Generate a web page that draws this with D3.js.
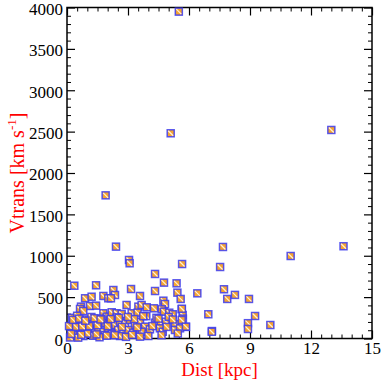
<!DOCTYPE html>
<html>
<head>
<meta charset="utf-8">
<script src="https://cdn.jsdelivr.net/npm/d3@7"></script>
<style>
  body { margin: 0; background: #fff; }
  svg text { font-family: "Liberation Serif", "Times New Roman", serif; }
</style>
</head>
<body>
<div id="chart"></div>
<script>
// distance [kpc] and transverse velocity [km/s]
const dist = [
  5.5, 5.1, 13.0, 1.9, 13.6, 2.41, 3.05, 3.08, 7.67, 7.53, 11.0, 5.66,
  0.36, 1.43, 4.33, 4.77, 5.39, 3.15, 4.33, 5.43, 2.28, 2.36, 7.72, 6.41,
  7.88, 8.26, 8.95, 0.89, 1.21, 1.79, 2.03, 2.16, 3.59, 4.74, 4.82, 5.59,
  2.93, 3.51, 1.13, 1.43, 0.69, 3.67, 3.92, 4.28, 4.66, 5.64, 0.64, 0.8,
  1.79, 1.95, 2.2, 2.44, 2.69, 3.18, 3.47, 4.77, 5.03, 5.2, 5.69, 6.95,
  9.25, 5.65, 5.7, 10.0, 8.9, 8.9, 7.13, 5.85, 7.12,
  0.39, 0.72, 1.05, 1.29, 1.62, 1.87, 2.11, 2.36, 2.61, 2.85, 3.1, 3.34,
  3.59, 3.84, 4.33, 4.61, 4.87, 5.31, 5.64,
  0.23, 0.48, 0.64, 0.89, 1.13, 1.38, 1.54, 1.79, 2.03, 2.28, 2.52, 2.77,
  3.02, 3.26, 3.67, 4.08, 4.57, 4.71, 5.31, 5.56, 5.85,
  0.31, 0.8, 1.29, 1.87, 2.61, 3.59, 0.15, 0.55, 1.0, 1.6, 2.2, 2.9,
  0.25, 0.5, 0.95, 1.2, 1.7, 2.45, 3.3, 3.9, 4.4, 5.0, 0.1, 0.45,
  0.75, 1.1, 1.5, 2.0, 2.7, 3.45, 4.2, 4.9, 0.3, 0.6, 0.9, 1.35,
  1.65, 2.15, 2.55, 3.0, 3.75, 4.5, 5.2, 0.2, 0.7, 1.45, 1.95, 2.35,
  3.2, 4.0, 4.65, 5.45
];
const vtrans = [
  3950, 2480, 2520, 1730, 1115, 1110, 949, 909, 1106, 864, 997, 900,
  638, 643, 780, 675, 667, 598, 574, 554, 586, 526, 595, 546,
  478, 527, 478, 486, 505, 514, 486, 486, 514, 457, 417, 478,
  405, 385, 393, 397, 385, 405, 377, 365, 353, 353, 357, 332,
  305, 264, 317, 305, 296, 305, 312, 324, 312, 293, 284, 293,
  272, 360, 240, 163, 185, 115, 90, 140, 82,
  191, 184, 203, 184, 203, 184, 224, 163, 203, 184, 224, 163,
  203, 143, 191, 184, 203, 175, 224,
  103, 82, 123, 94, 115, 75, 123, 82, 111, 70, 103, 63,
  103, 70, 82, 111, 123, 82, 103, 123, 143,
  42, 30, 34, 42, 30, 22, 12, 10, 60, 15, 55, 20,
  250, 275, 230, 260, 240, 255, 235, 270, 250, 262, 150, 140,
  145, 150, 160, 150, 140, 135, 150, 140, 225, 240, 215, 245,
  230, 235, 250, 260, 270, 240, 230, 55, 45, 50, 35, 40,
  45, 30, 40, 60
];

const xTicks = [0, 3, 6, 9, 12, 15];
const yTicks = [0, 500, 1000, 1500, 2000, 2500, 3000, 3500, 4000];

const W = 381, H = 381;
const margin = { top: 7.5, right: 9, bottom: 42.5, left: 67 };
const width = W - margin.left - margin.right;
const height = H - margin.top - margin.bottom;

const svg = d3.select("#chart").append("svg")
    .attr("width", W)
    .attr("height", H);

const g = svg.append("g")
    .attr("transform", `translate(${margin.left}, ${margin.top})`);

const x = d3.scaleLinear().domain([0, 15]).range([0, width]);
const y = d3.scaleLinear().domain([0, 4000]).range([height, 0]);

// inward ticks on all four sides, minor ticks without labels
function drawAxis(axisFn, scale, major, minorStep, showLabels, transform) {
    const minor = d3.range(scale.domain()[0], scale.domain()[1] + 1e-9, minorStep)
        .filter(v => !major.some(m => Math.abs(m - v) < 1e-9));
    const gm = g.append("g").attr("transform", transform)
        .call(axisFn(scale).tickValues(minor).tickSize(-4).tickFormat(""));
    gm.select(".domain").remove();
    const gM = g.append("g").attr("transform", transform)
        .call(axisFn(scale).tickValues(major).tickSize(-8).tickPadding(4)
            .tickFormat(showLabels ? d3.format("d") : ""));
    gM.select(".domain").remove();
    gm.selectAll("line").attr("stroke", "#000").attr("stroke-width", 1);
    gM.selectAll("line").attr("stroke", "#000").attr("stroke-width", 1.2);
    gM.selectAll("text")
        .style("font-size", "17px")
        .style("font-family", "'Liberation Serif', serif")
        .attr("fill", "#000");
    return gM;
}

const xAx = drawAxis(d3.axisBottom, x, xTicks, 0.5, true, `translate(0, ${height})`);
xAx.selectAll("text").attr("y", 3);
drawAxis(d3.axisTop, x, xTicks, 0.5, false, "translate(0, 0)");
const yAx = drawAxis(d3.axisLeft, y, yTicks, 100, true, "translate(0, 0)");
yAx.selectAll("text").attr("x", -4).attr("dy", "0.4em");
drawAxis(d3.axisRight, y, yTicks, 100, false, `translate(${width}, 0)`);

// frame
g.append("rect")
    .attr("width", width)
    .attr("height", height)
    .attr("fill", "none")
    .attr("stroke", "#000")
    .attr("stroke-width", 1.5);

// points: orange square, blue border, light diagonal
const pts = dist.map((d, i) => ({ d: d, v: vtrans[i] }));
const s = 7;
const mk = g.append("g").selectAll("g")
    .data(pts)
    .enter().append("g")
    .attr("transform", p => `translate(${x(p.d)}, ${y(p.v)})`);

mk.append("rect")
    .attr("x", -s / 2).attr("y", -s / 2)
    .attr("width", s).attr("height", s)
    .attr("fill", "#f6a530")
    .attr("stroke", "#3c3cf0")
    .attr("stroke-opacity", 0.85)
    .attr("stroke-width", 1.5);

mk.append("line")
    .attr("x1", -s / 2 + 1).attr("y1", -s / 2 + 1)
    .attr("x2", s / 2 - 1).attr("y2", s / 2 - 1)
    .attr("stroke", "#fff1d8")
    .attr("stroke-width", 1.2);

// axis titles
svg.append("text")
    .attr("x", margin.left + width / 2)
    .attr("y", 376)
    .attr("text-anchor", "middle")
    .attr("fill", "#ff0000")
    .style("font-size", "19px")
    .text("Dist [kpc]");

const yt = svg.append("text")
    .attr("transform", `translate(24, ${margin.top + height / 2}) rotate(-90)`)
    .attr("text-anchor", "middle")
    .attr("fill", "#ff0000")
    .style("font-size", "20px");
yt.append("tspan").text("Vtrans [km s");
yt.append("tspan").attr("dy", -8).style("font-size", "13px").text("-1");
yt.append("tspan").attr("dy", 8).text("]");
</script>
</body>
</html>
